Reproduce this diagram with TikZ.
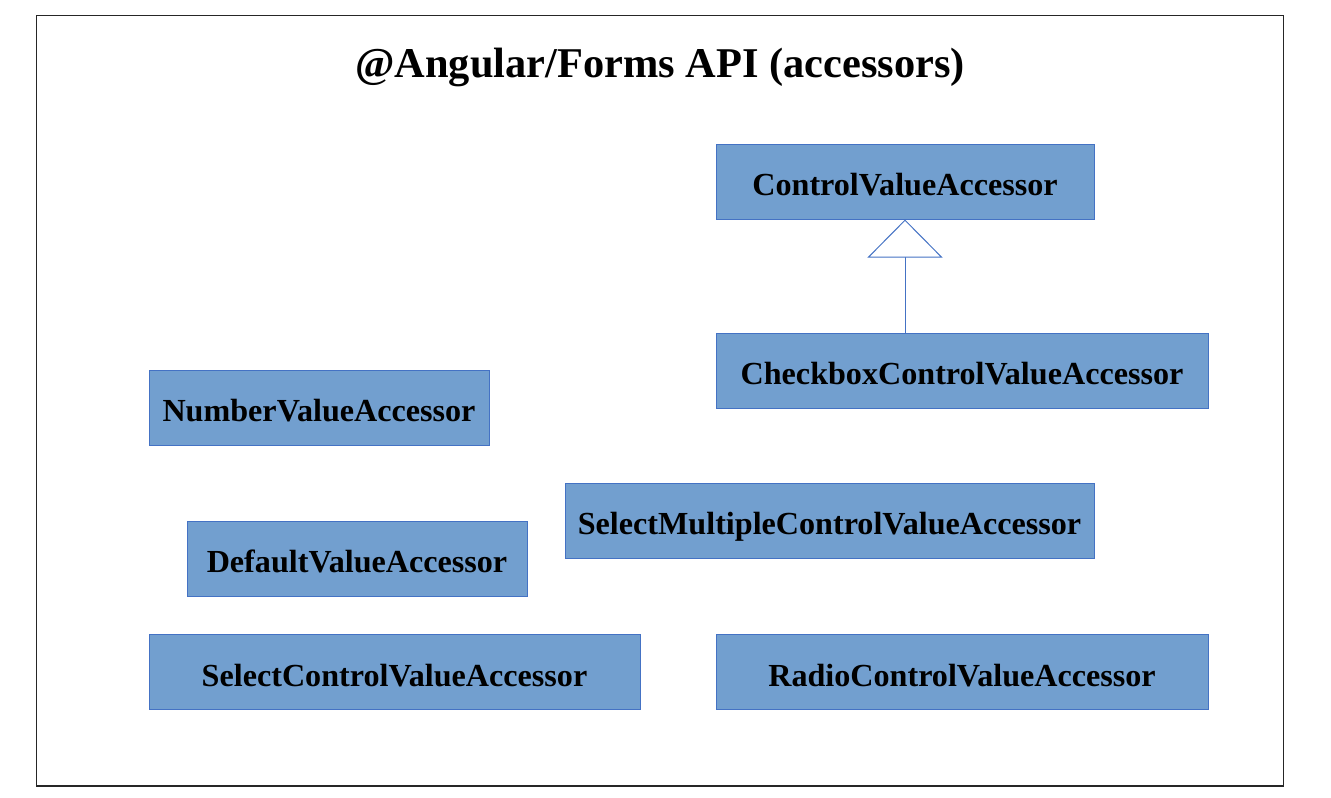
\documentclass[tikz,border=0pt]{standalone}
\usepackage{fontspec}
\setmainfont{Liberation Serif}
\usetikzlibrary{arrows.meta}
\definecolor{boxfill}{HTML}{729FCF}
\definecolor{boxline}{HTML}{4472C4}
\tikzset{
  cls/.style={draw=boxline, fill=boxfill, line width=0.75pt, inner sep=0pt,
    minimum height=56.25pt, text height=23pt, text depth=2pt,
    font=\fontsize{24.1}{28}\selectfont\bfseries, text=black},
  frame/.style={draw=black!85, line width=1.1pt},
  inherit/.style={draw=boxline, line width=0.75pt,
    -{Triangle[open, length=28.5pt, width=56.25pt, fill=white]}}
}
\begin{document}
\begin{tikzpicture}[x=0.75pt, y=-0.75pt]
\useasboundingbox (0,0) rectangle (1331,797);
\draw[frame] (36.5,15.5) rectangle (1283.5,786);
\node[font=\fontsize{31.8}{36}\selectfont\bfseries] (title) at (660,67) {@Angular/Forms API (accessors)};
\node[cls, minimum width=283.5pt] (cva) at (905,181.5) {ControlValueAccessor};
\node[cls, minimum width=369pt] (cb) at (962,370.5) {CheckboxControlValueAccessor};
\node[cls, minimum width=255pt] (num) at (319,407.5) {NumberValueAccessor};
\node[cls, minimum width=396.75pt] (sm) at (829.5,520.5) {SelectMultipleControlValueAccessor};
\node[cls, minimum width=255pt] (def) at (357,558.5) {DefaultValueAccessor};
\node[cls, minimum width=368.25pt] (sel) at (394.5,672) {SelectControlValueAccessor};
\node[cls, minimum width=369pt] (rad) at (962,672) {RadioControlValueAccessor};
\draw[inherit] (cva.south |- cb.north) -- (cva.south);
\end{tikzpicture}
\end{document}
